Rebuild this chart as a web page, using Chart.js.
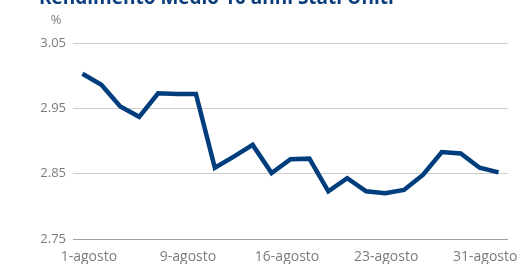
<!DOCTYPE html>
<html>
<head>
<meta charset="utf-8">
<script src="https://cdn.jsdelivr.net/npm/chart.js@4"></script>
<style>
  html, body { margin: 0; padding: 0; background: #fff; }
  #wrap { width: 522px; height: 264px; position: relative; }
</style>
</head>
<body>
<div id="wrap"><canvas id="grafico"></canvas></div>
<script>
// Dati: rendimento medio 10 anni, agosto (giorni lavorativi)
const giorni = ['1', '2', '3', '6', '7', '8', '9', '10', '13', '14', '15', '16',
  '17', '20', '21', '22', '23', '24', '27', '28', '29', '30', '31'];
const rendimento = [3.003, 2.986, 2.953, 2.937, 2.973, 2.972, 2.972, 2.859, 2.876, 2.894,
  2.851, 2.872, 2.873, 2.823, 2.843, 2.823, 2.820, 2.825, 2.848, 2.883, 2.881, 2.859, 2.852];
const etichetteX = ['1-agosto', '9-agosto', '16-agosto', '23-agosto', '31-agosto'];
const tickY = [2.75, 2.85, 2.95, 3.05];
const titolo = 'Rendimento Medio 10 anni Stati Uniti';

const FONT = "'Open Sans', sans-serif";
const GRIGIO = '#7b7b7b';

// Titolo e unità disegnati sopra al grafico
const testiExtra = {
  id: 'testiExtra',
  afterDraw(chart) {
    const ctx = chart.ctx;
    ctx.save();
    ctx.fillStyle = '#0b3e7c';
    ctx.font = 'bold 19px ' + FONT;
    ctx.textBaseline = 'alphabetic';
    ctx.textAlign = 'left';
    ctx.fillText(titolo, 39, 3.5);
    ctx.fillStyle = GRIGIO;
    ctx.font = '13px ' + FONT;
    ctx.textAlign = 'center';
    ctx.fillText('%', 56, 24);
    ctx.restore();
  }
};

new Chart(document.getElementById('grafico'), {
  type: 'line',
  data: {
    labels: giorni,
    datasets: [{
      data: rendimento,
      borderColor: '#003d7c',
      borderWidth: 4.5,
      pointRadius: 0,
      fill: false,
      tension: 0,
      xAxisID: 'x'
    }]
  },
  options: {
    responsive: true,
    maintainAspectRatio: false,
    animation: false,
    layout: { padding: { top: 43, right: 14, left: 0, bottom: 0 } },
    plugins: {
      legend: { display: false },
      tooltip: { enabled: false }
    },
    scales: {
      x: {
        type: 'category',
        offset: true,
        display: false
      },
      x2: {
        type: 'linear',
        position: 'bottom',
        min: -0.16,
        max: 4.23,
        afterBuildTicks: (scale) => {
          scale.ticks = etichetteX.map((_, i) => ({ value: i }));
        },
        afterFit: (scale) => { scale.height = 25; },
        grid: { display: false },
        border: { display: false },
        ticks: {
          color: GRIGIO,
          font: { family: FONT, size: 14 },
          padding: 2,
          maxRotation: 0,
          autoSkip: false,
          callback: (v) => etichetteX[v]
        }
      },
      y: {
        min: 2.75,
        max: 3.05,
        afterBuildTicks: (scale) => {
          scale.ticks = tickY.map(v => ({ value: v }));
        },
        afterFit: (scale) => { scale.width = 73; },
        border: { display: false },
        grid: {
          drawTicks: false,
          lineWidth: 1,
          color: (c) => c.tick && c.tick.value === 2.75 ? '#a0a0a0' : '#cccccc'
        },
        ticks: {
          color: GRIGIO,
          font: { family: FONT, size: 13 },
          padding: 7,
          callback: (v) => v.toFixed(2)
        }
      }
    }
  },
  plugins: [testiExtra]
});
</script>
</body>
</html>
